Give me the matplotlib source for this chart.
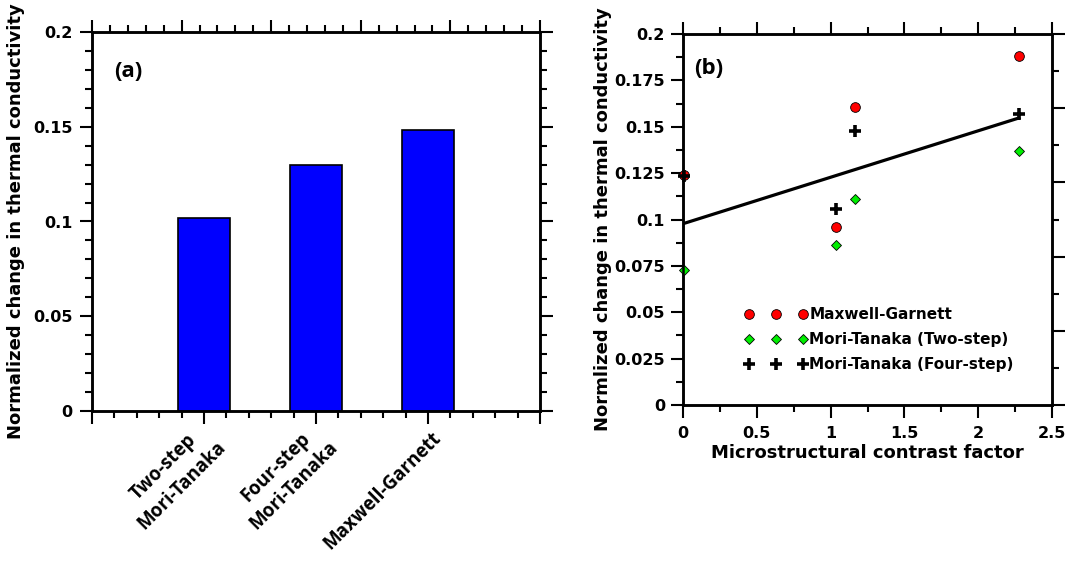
import numpy as np
import matplotlib
matplotlib.use('Agg')
import matplotlib.pyplot as plt
from matplotlib.ticker import MultipleLocator, FuncFormatter, NullFormatter, FixedLocator

# ---- data ----
methods = ["Two-step\nMori-Tanaka", "Four-step\nMori-Tanaka", "Maxwell-Garnett"]
bar_values = [0.102, 0.130, 0.1485]

contrast = [0.01, 1.036, 1.167, 2.276]
maxwell_garnett = [0.124, 0.0962, 0.1606, 0.1883]
mt_two_step = [0.0728, 0.086, 0.111, 0.137]
mt_four_step = [0.1237, 0.1058, 0.1478, 0.1568]

plt.rcParams['font.family'] = ['DejaVu Sans']
plt.rcParams['font.weight'] = 'bold'

fig = plt.figure(figsize=(10.7, 5.61), dpi=100)
W, H = 1070, 561
axa = fig.add_axes([92 / W, 1 - 411 / H, 448 / W, 379 / H])
axb = fig.add_axes([683 / W, 1 - 405 / H, 369 / W, 371 / H])

SPW = 1.8
MAJ = dict(length=9, width=1.5)
MIN = dict(length=5, width=1.5)
fmt = FuncFormatter(lambda v, p: '%g' % round(v, 4))
tickfont = 11.5
ALT = ['Open Sans', 'DejaVu Sans']

# ---------- panel (a) ----------
xpos = np.arange(1, len(methods) + 1)
axa.bar(xpos, bar_values, width=0.46, color='#0000FF', edgecolor='black', linewidth=1.2, zorder=3)
axa.set_xlim(0, 4)
axa.set_ylim(0, 0.2)
axa.xaxis.set_major_locator(FixedLocator([0, 1, 2, 3, 4]))
axa.xaxis.set_major_formatter(NullFormatter())
axa.xaxis.set_minor_locator(MultipleLocator(0.2))
axa.yaxis.set_major_locator(MultipleLocator(0.05))
axa.yaxis.set_minor_locator(MultipleLocator(0.01))
axa.yaxis.set_major_formatter(fmt)
axa.tick_params(which='both', direction='out', left=True, right=True, bottom=True, top=False,
                labelright=False)
axa.tick_params(which='major', **MAJ)
axa.tick_params(which='minor', **MIN)
axa.tick_params(axis='y', labelsize=tickfont, pad=5)
for xp, name in zip(xpos, methods):
    axa.annotate(name, xy=(xp, 0), xycoords=('data', 'axes fraction'),
                 xytext=(7, -17.5), textcoords='offset points',
                 rotation=45, ha='right', va='center', rotation_mode='anchor',
                 multialignment='center', linespacing=1.4, fontsize=13.5,
                 family=ALT, fontweight='bold', annotation_clip=False)
for s in axa.spines.values():
    s.set_linewidth(SPW)
axa.set_ylabel('Normalized change in thermal conductivity', fontsize=13, fontweight='bold', labelpad=6)
axa.text(0.05, 0.895, '(a)', transform=axa.transAxes, fontsize=16, fontweight='bold',
         family=ALT, va='center', ha='left')

axa_top = axa.twiny()
axa_top.set_xlim(0, 5)
axa_top.xaxis.set_major_locator(MultipleLocator(1))
axa_top.xaxis.set_minor_locator(MultipleLocator(0.2))
axa_top.xaxis.set_major_formatter(NullFormatter())
axa_top.tick_params(which='both', direction='out', top=True, bottom=False, labeltop=False)
axa_top.tick_params(which='major', **MAJ)
axa_top.tick_params(which='minor', **MIN)
for s in axa_top.spines.values():
    s.set_linewidth(SPW)

# ---------- panel (b) ----------
axb.plot(contrast, maxwell_garnett, linestyle='none', marker='o', markersize=7,
         markerfacecolor='red', markeredgecolor='black', markeredgewidth=0.6,
         label='Maxwell-Garnett', clip_on=False, zorder=4)
axb.plot(contrast, mt_two_step, linestyle='none', marker='D', markersize=5.5,
         markerfacecolor='#00EE00', markeredgecolor='black', markeredgewidth=0.6,
         label='Mori-Tanaka (Two-step)', clip_on=False, zorder=4)
axb.plot(contrast, mt_four_step, linestyle='none', marker='+', markersize=8,
         color='black', markeredgewidth=2.6,
         label='Mori-Tanaka (Four-step)', clip_on=False, zorder=5)

all_x = np.array(contrast * 3)
all_y = np.array(maxwell_garnett + mt_two_step + mt_four_step)
slope, intercept = np.polyfit(all_x, all_y, 1)
xl = np.array([0.0, max(contrast)])
axb.plot(xl, intercept + slope * xl, color='black', linewidth=2.3, zorder=3)

axb.set_xlim(0, 2.5)
axb.set_ylim(0, 0.2)
axb.xaxis.set_major_locator(MultipleLocator(0.5))
axb.xaxis.set_minor_locator(MultipleLocator(0.25))
axb.yaxis.set_major_locator(MultipleLocator(0.025))
axb.yaxis.set_minor_locator(MultipleLocator(0.0125))
axb.xaxis.set_major_formatter(fmt)
axb.yaxis.set_major_formatter(fmt)
axb.tick_params(which='both', direction='out', left=True, right=False, bottom=True, top=True,
                labeltop=False)
axb.tick_params(which='major', **MAJ)
axb.tick_params(which='minor', **MIN)
axb.tick_params(axis='y', labelsize=tickfont, pad=4)
axb.tick_params(axis='x', labelsize=tickfont, pad=6)
for s in axb.spines.values():
    s.set_linewidth(SPW)
axb.set_ylabel('Normlized change in thermal conductivity', fontsize=13, fontweight='bold', labelpad=2)
axb.set_xlabel('Microstructural contrast factor', fontsize=13, fontweight='bold', labelpad=2)
axb.text(0.03, 0.908, '(b)', transform=axb.transAxes, fontsize=16, fontweight='bold',
         family=ALT, va='center', ha='left')

leg = axb.legend(loc='lower left', bbox_to_anchor=(0.15, 0.072), numpoints=3, frameon=False,
                 fontsize=11, handlelength=4.1, handletextpad=0.15, labelspacing=0.65,
                 borderaxespad=0)

axb_r = axb.twinx()
axb_r.set_ylim(0, 10)
axb_r.yaxis.set_major_locator(MultipleLocator(2))
axb_r.yaxis.set_minor_locator(MultipleLocator(1))
axb_r.yaxis.set_major_formatter(NullFormatter())
axb_r.tick_params(which='both', direction='out', right=True, left=False, labelright=False)
axb_r.tick_params(which='major', **MAJ)
axb_r.tick_params(which='minor', **MIN)
for s in axb_r.spines.values():
    s.set_linewidth(SPW)

fig.savefig('out.png', dpi=100)
